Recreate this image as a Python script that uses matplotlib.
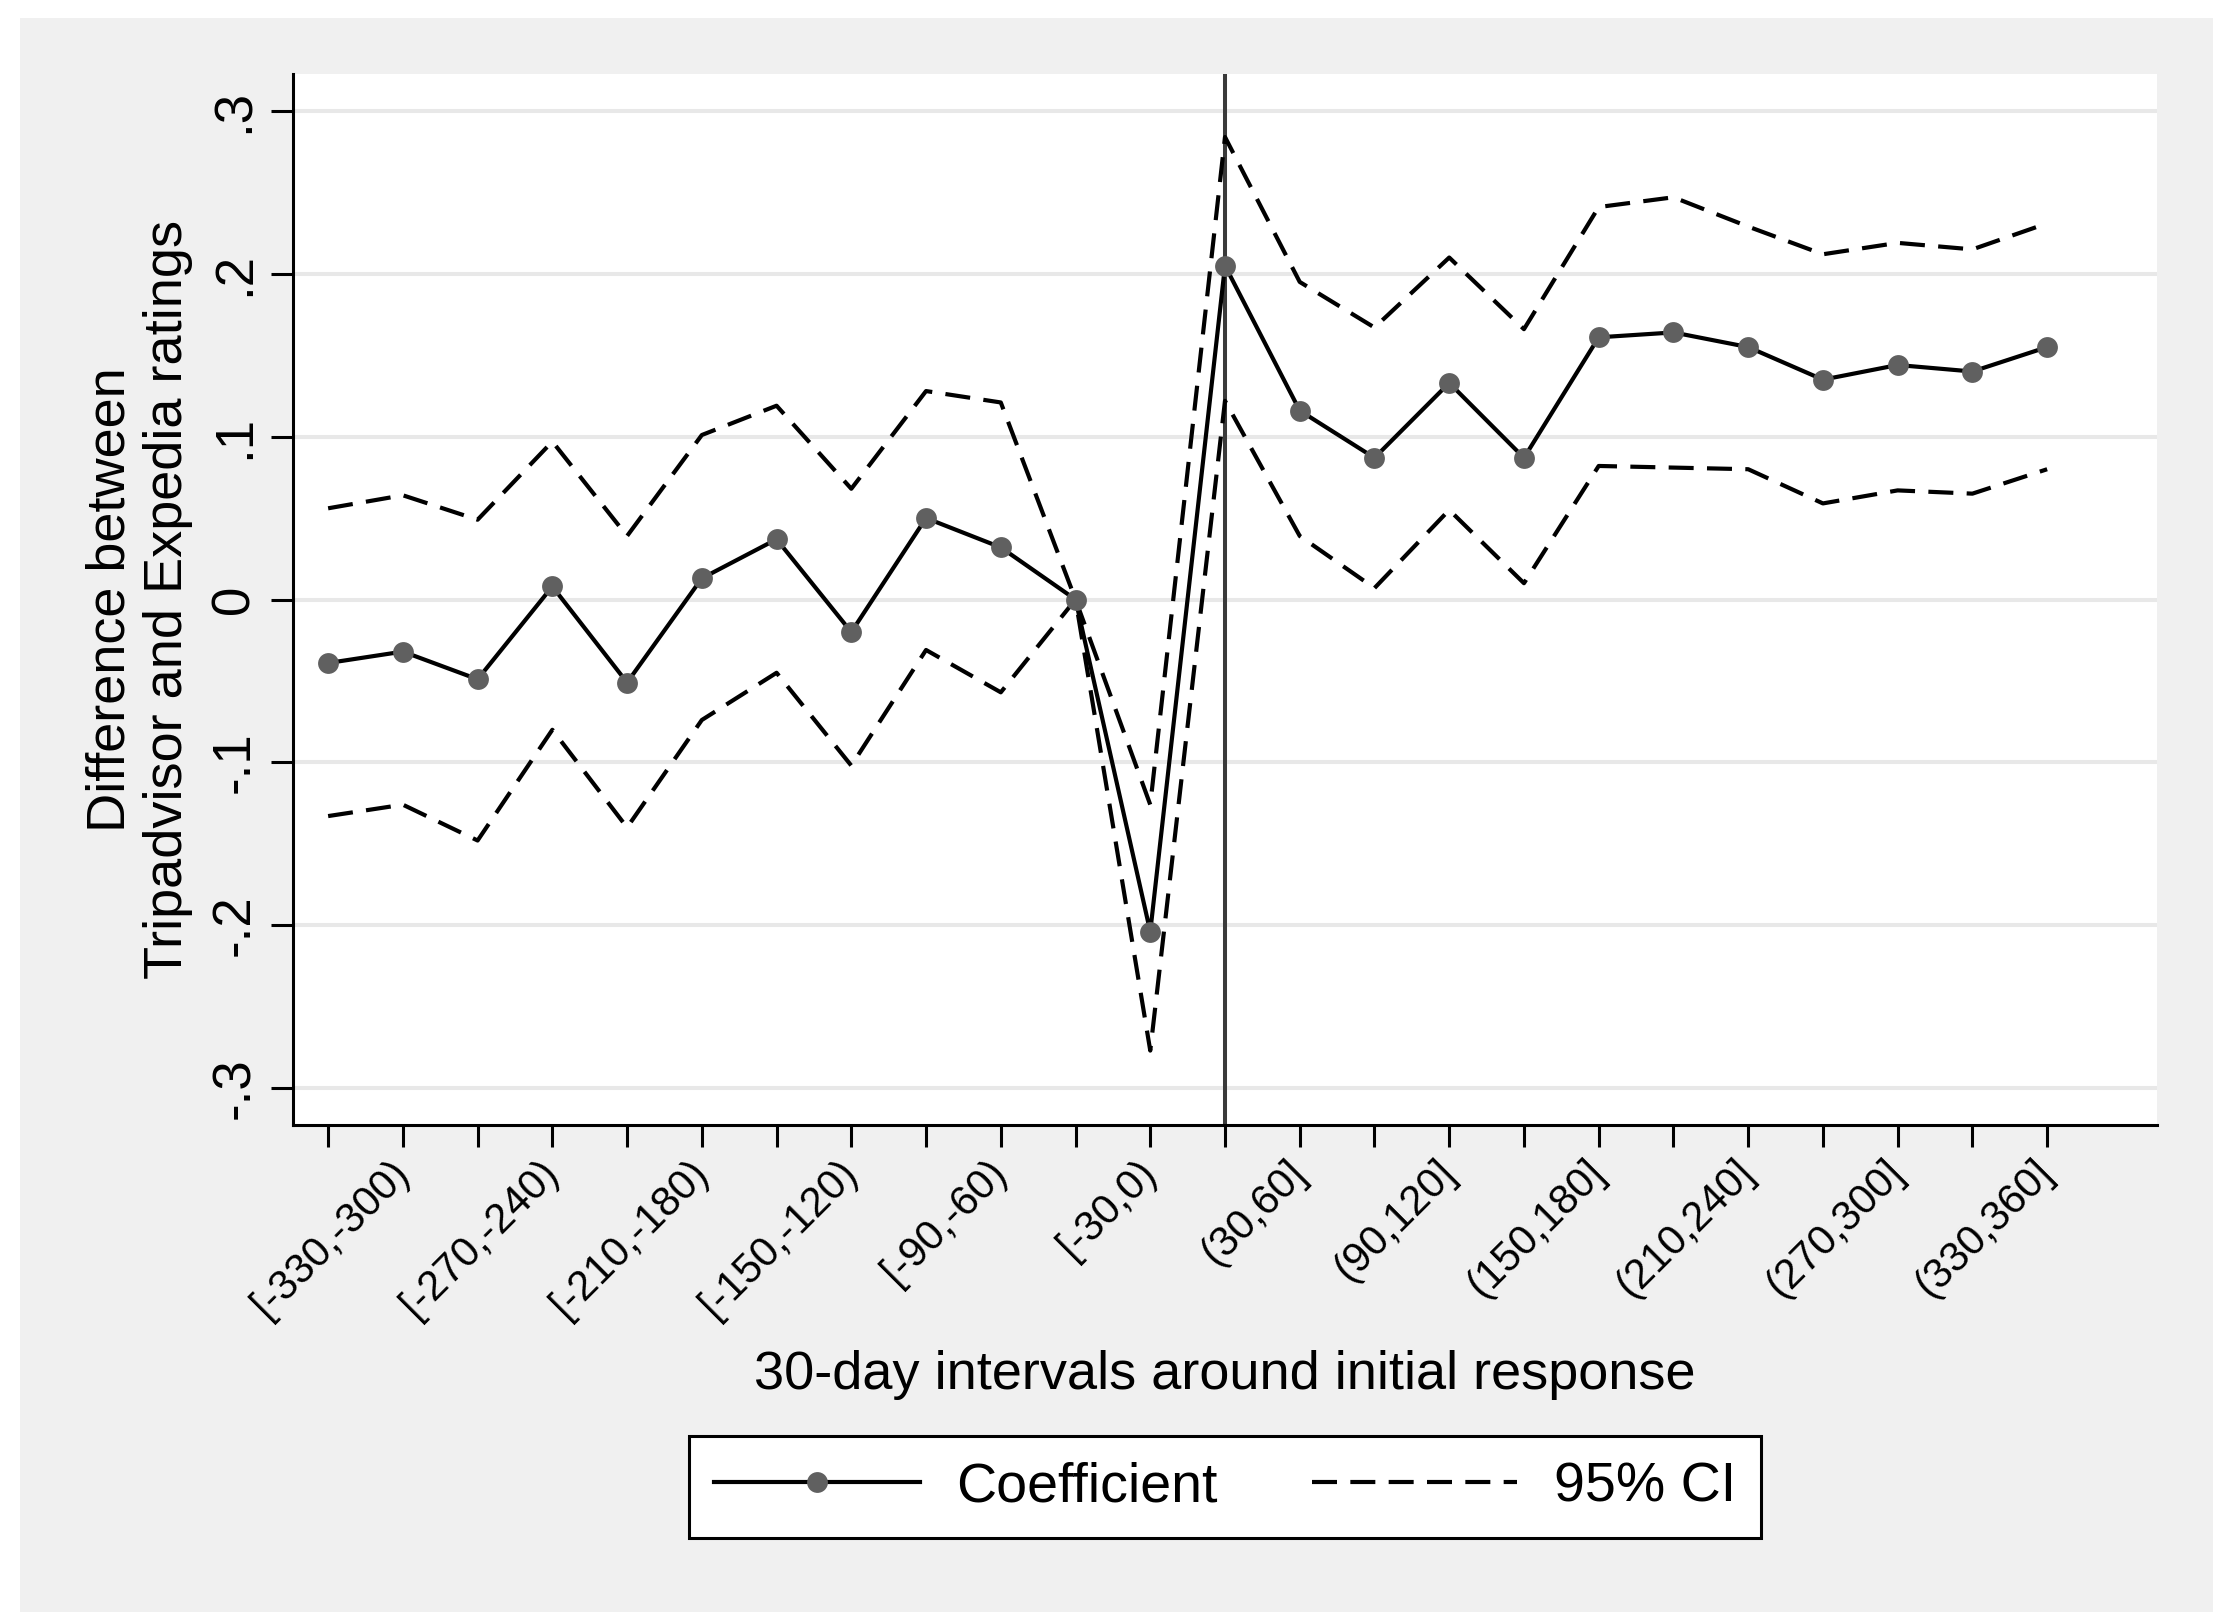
import numpy as np
import matplotlib.pyplot as plt
from matplotlib.patches import Rectangle

plt.rcParams['font.family'] = ['Liberation Sans', 'DejaVu Sans']

# coefficient and 95% CI for each 30-day interval (24 bins, index 12 = response)
coef = [-0.039, -0.032, -0.049, 0.008, -0.051, 0.013, 0.037, -0.020, 0.050, 0.032, 0.0, -0.204,
        0.205, 0.116, 0.087, 0.133, 0.087, 0.161, 0.164, 0.155, 0.135, 0.144, 0.140, 0.155]
ci_upper = [0.056, 0.064, 0.049, 0.097, 0.039, 0.101, 0.119, 0.068, 0.128, 0.121, 0.0, -0.126,
            0.284, 0.195, 0.167, 0.210, 0.166, 0.241, 0.247, 0.229, 0.212, 0.219, 0.215, 0.231]
ci_lower = [-0.133, -0.126, -0.148, -0.080, -0.140, -0.074, -0.045, -0.102, -0.031, -0.057, 0.0, -0.277,
            0.122, 0.039, 0.007, 0.055, 0.010, 0.082, 0.081, 0.080, 0.059, 0.067, 0.065, 0.080]

xtick_labels = ['[-330,-300)', '[-270,-240)', '[-210,-180)', '[-150,-120)', '[-90,-60)', '[-30,0)',
                '(30,60]', '(90,120]', '(150,180]', '(210,240]', '(270,300]', '(330,360]']
ytick_vals = [-0.3, -0.2, -0.1, 0, 0.1, 0.2, 0.3]
ytick_labels = ['-.3', '-.2', '-.1', '0', '.1', '.2', '.3']
response_bin = 12

x = np.arange(len(coef))

fig = plt.figure(figsize=(22.18, 16.12), dpi=100, facecolor='white')
fig.patches.append(Rectangle((20 / 2218, 0), 2193 / 2218, 1 - 18 / 1612,
                             transform=fig.transFigure, facecolor='#f0f0f0',
                             edgecolor='none', zorder=-10))

ax = fig.add_axes([293 / 2218, 1 - 1125 / 1612, 1864 / 2218, 1051 / 1612])
ax.set_facecolor('white')

for yv in ytick_vals:
    ax.axhline(yv, color='#e8e8e8', lw=2.9, zorder=1)
ax.axvline(response_bin, color='#3a3a3a', lw=2.9, zorder=2)

ax.plot(x, ci_upper, color='black', lw=3.0, dashes=(6.0, 3.2), zorder=3, label='95% CI')
ax.plot(x, ci_lower, color='black', lw=3.0, dashes=(6.0, 3.2), zorder=3)
ax.plot(x, coef, color='black', lw=3.0, marker='o', markersize=15,
        markerfacecolor='#606060', markeredgecolor='#606060', markeredgewidth=0,
        zorder=4, label='Coefficient')

ax.set_xlim(-0.47, 24.47)
ax.set_ylim(-0.3227, 0.3227)

for s in ['top', 'right']:
    ax.spines[s].set_visible(False)
for s in ['left', 'bottom']:
    ax.spines[s].set_linewidth(2.2)
    ax.spines[s].set_color('black')

ax.set_yticks(ytick_vals)
ax.set_yticklabels(ytick_labels, rotation=90, va='center', fontsize=38)
ax.tick_params(axis='y', direction='out', length=16, width=2.2, pad=8)

ax.set_xticks(x[1::2])
ax.set_xticks(x[0::2], minor=True)
ax.set_xticklabels(xtick_labels, rotation=45, ha='right', va='center',
                   rotation_mode='anchor', fontsize=30)
ax.tick_params(axis='x', which='both', direction='out', length=16, width=2.2, pad=14)

ax.set_xlabel('30-day intervals around initial response', fontsize=39, va='center')
ax.xaxis.set_label_coords(0.5, -0.238)
ax.set_ylabel('Difference between\nTripadvisor and Expedia ratings', fontsize=39,
              va='center', linespacing=1.2)
ax.yaxis.set_label_coords(-0.0826, 0.5)

handles, labels = ax.get_legend_handles_labels()
order = [1, 0]
leg = fig.legend([handles[i] for i in order], [labels[i] for i in order],
                 loc='center', bbox_to_anchor=(0.5523, 1 - 1487 / 1612), ncol=2,
                 fontsize=40, frameon=True, fancybox=False, edgecolor='black',
                 facecolor='white', framealpha=1, handlelength=3.7, handletextpad=0.65,
                 columnspacing=1.7, borderpad=0.45, numpoints=1)
leg.get_frame().set_linewidth(2.2)

fig.savefig('out.png', dpi=100, facecolor=fig.get_facecolor())
